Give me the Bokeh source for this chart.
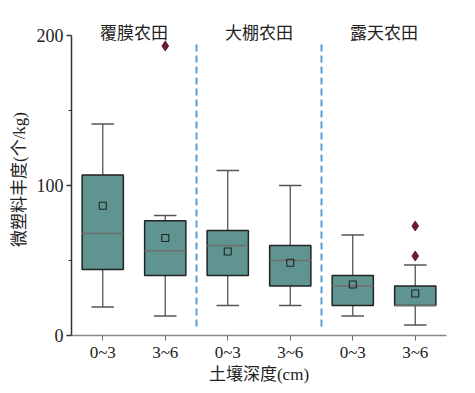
from bokeh.plotting import figure
from bokeh.models import FixedTicker, Range1d
from bokeh.core.properties import value
from bokeh.embed import file_html
from bokeh.resources import INLINE

# ---- data ----
groups = ["覆膜农田", "大棚农田", "露天农田"]
depth_labels = ["0~3", "3~6", "0~3", "3~6", "0~3", "3~6"]
q1 = [44, 40, 40, 33, 20, 20]
q3 = [107, 76.5, 70, 60, 40, 33]
medians = [68, 56.5, 60, 50, 33, 20]
means = [86.5, 65, 56, 48.5, 34, 28]
whisk_lo = [19, 13, 20, 20, 13, 7]
whisk_hi = [141, 80, 110, 100, 67, 47]
outlier_box = [2, 6, 6]
outlier_val = [193, 73, 53]

FONT = "Liberation Serif, Noto Sans CJK SC"
xs = list(range(1, len(depth_labels) + 1))

p = figure(frame_width=375, frame_height=312, output_backend="svg",
           toolbar_location=None, x_range=Range1d(0.5, 6.5),
           y_range=Range1d(0, 208),
           min_border_left=71, min_border_top=23, min_border_right=12,
           min_border_bottom=50)
p.outline_line_color = None
p.grid.visible = False
p.background_fill_color = "white"

box_w = 0.66
cap_w = 0.36
teal = "#5F9490"
edge = "#222222"
wcol = "#555555"

# whiskers
p.segment(x0=xs, y0=q3, x1=xs, y1=whisk_hi, line_color=wcol, line_width=1.3)
p.segment(x0=xs, y0=q1, x1=xs, y1=whisk_lo, line_color=wcol, line_width=1.3)
p.segment(x0=[x - cap_w / 2 for x in xs], y0=whisk_hi,
          x1=[x + cap_w / 2 for x in xs], y1=whisk_hi, line_color=wcol, line_width=1.3)
p.segment(x0=[x - cap_w / 2 for x in xs], y0=whisk_lo,
          x1=[x + cap_w / 2 for x in xs], y1=whisk_lo, line_color=wcol, line_width=1.3)
# boxes
p.vbar(x=xs, width=box_w, top=q3, bottom=q1, fill_color=teal,
       line_color=edge, line_width=1.5)
# medians
p.segment(x0=[x - box_w / 2 for x in xs], y0=medians,
          x1=[x + box_w / 2 for x in xs], y1=medians, line_color="#6E6E6E", line_width=1.3)
# means
p.scatter(x=xs, y=means, marker="square", size=7, fill_alpha=0,
          line_color="#222222", line_width=1.1)
# outliers
p.scatter(x=outlier_box, y=outlier_val, marker="diamond", size=10,
          fill_color="#6B1A3A", line_color="#6B1A3A")

# separators
for sx in [2.5, 4.5]:
    p.segment(x0=[sx], y0=[6], x1=[sx], y1=[195], line_color="#5B9BD5",
              line_width=2, line_dash="7 4")

# group titles
p.text(x=[1.5, 3.5, 5.5], y=[201.3] * 3, text=groups, text_align="center",
       text_baseline="middle", text_font_size="17px", text_color="#222222",
       text_font=value(FONT))

# axes
yax = p.yaxis[0]
yax.ticker = FixedTicker(ticks=[0, 100, 200], minor_ticks=[50, 150])
yax.bounds = (0, 200)
yax.axis_label = "微塑料丰度(个/kg)"
yax.axis_label_text_font = FONT
yax.axis_label_text_font_style = "normal"
yax.axis_label_text_font_size = "17px"
yax.axis_label_text_color = "#222222"
yax.axis_label_standoff = 5
yax.major_label_text_font = FONT
yax.major_label_text_font_size = "18px"
yax.major_label_text_color = "#222222"
yax.major_label_standoff = 3
yax.major_tick_out = 5
yax.major_tick_in = 0
yax.minor_tick_out = 3
yax.minor_tick_in = 0
yax.axis_line_color = "#333333"
yax.axis_line_width = 1.5
yax.major_tick_line_color = "#333333"
yax.minor_tick_line_color = "#333333"
yax.major_tick_line_width = 1.3

xax = p.xaxis[0]
xax.ticker = FixedTicker(ticks=xs)
xax.major_label_overrides = {x: lab for x, lab in zip(xs, depth_labels)}
xax.axis_label = "土壤深度(cm)"
xax.axis_label_text_font = FONT
xax.axis_label_text_font_style = "normal"
xax.axis_label_text_font_size = "17px"
xax.axis_label_text_color = "#222222"
xax.axis_label_standoff = 0
xax.major_label_text_font = FONT
xax.major_label_text_font_size = "17px"
xax.major_label_text_color = "#222222"
xax.major_label_standoff = 2
xax.major_tick_out = 5
xax.major_tick_in = 0
xax.minor_tick_line_color = None
xax.axis_line_color = "#888888"
xax.axis_line_width = 1.5
xax.major_tick_line_color = "#666666"

open("out.html", "w").write(file_html(p, INLINE))
